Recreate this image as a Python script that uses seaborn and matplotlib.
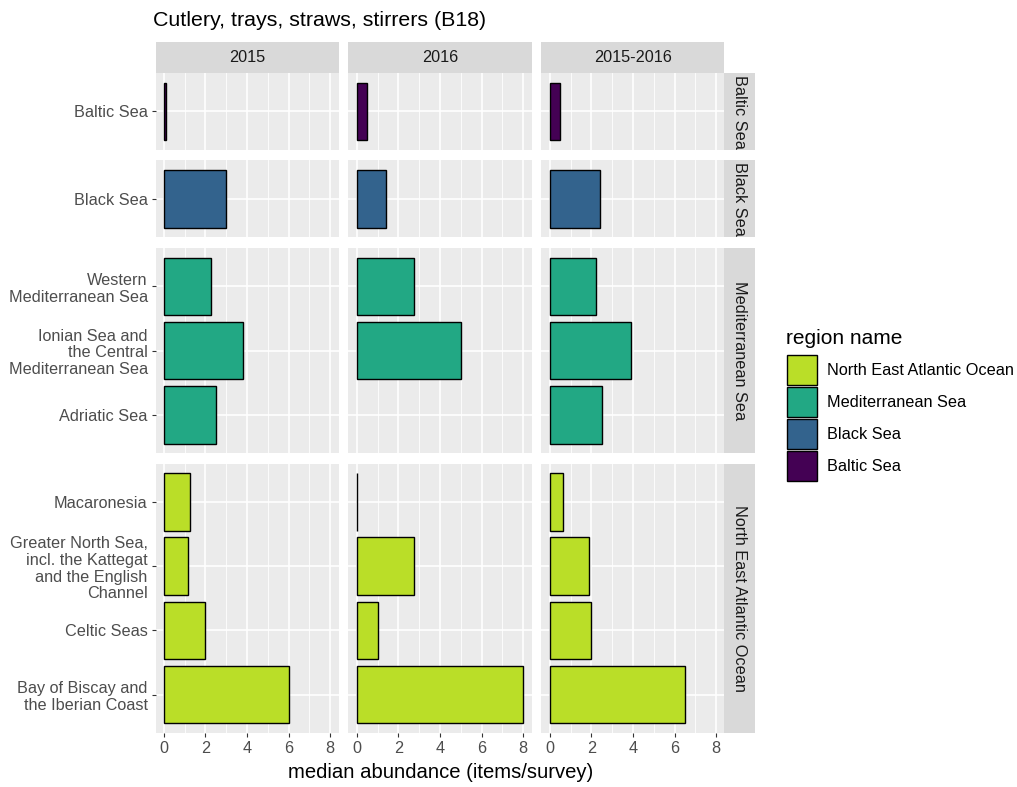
import numpy as np
import pandas as pd
import matplotlib
matplotlib.use('Agg')
import matplotlib.pyplot as plt
import seaborn as sns
from matplotlib.patches import Rectangle, Patch
from matplotlib.ticker import MultipleLocator

# Chart data
years = ['2015', '2016', '2015-2016']
regions = ['Baltic Sea', 'Black Sea', 'Mediterranean Sea', 'North East Atlantic Ocean']
baltic_sub = ['Baltic Sea']
black_sub = ['Black Sea']
med_sub = ['Western\nMediterranean Sea',
           'Ionian Sea and\nthe Central\nMediterranean Sea',
           'Adriatic Sea']
nea_sub = ['Macaronesia',
           'Greater North Sea,\nincl. the Kattegat\nand the English\nChannel',
           'Celtic Seas',
           'Bay of Biscay and\nthe Iberian Coast']
val_2015 = [0.1, 3.0, 2.25, 3.8, 2.5, 1.25, 1.15, 2.0, 6.0]
val_2016 = [0.5, 1.4, 2.75, 5.0, np.nan, 0.0, 2.75, 1.0, 8.0]
val_2015_2016 = [0.5, 2.4, 2.2, 3.9, 2.5, 0.65, 1.9, 2.0, 6.5]
region_colors = {'North East Atlantic Ocean': '#BADE28',
                 'Mediterranean Sea': '#22A884',
                 'Black Sea': '#33638D',
                 'Baltic Sea': '#440154'}
legend_order = ['North East Atlantic Ocean', 'Mediterranean Sea', 'Black Sea', 'Baltic Sea']

subs_by_region = {'Baltic Sea': baltic_sub, 'Black Sea': black_sub,
                  'Mediterranean Sea': med_sub, 'North East Atlantic Ocean': nea_sub}

# long table
rows = []
all_subs = baltic_sub + black_sub + med_sub + nea_sub
all_regs = ['Baltic Sea'] + ['Black Sea'] + ['Mediterranean Sea'] * 3 + ['North East Atlantic Ocean'] * 4
for year, vals in zip(years, [val_2015, val_2016, val_2015_2016]):
    for sub, reg, v in zip(all_subs, all_regs, vals):
        rows.append({'year': year, 'region': reg, 'subregion': sub, 'value': v})
df = pd.DataFrame(rows).dropna()

plt.rcParams['font.family'] = ['Liberation Sans', 'DejaVu Sans']

W, H = 1017, 787
fig = plt.figure(figsize=(W / 100, H / 100), dpi=100)
gs = fig.add_gridspec(4, 3, height_ratios=[1.2, 1.2, 3.2, 4.2],
                      left=155.5 / W, right=724.5 / W, top=1 - 73 / H, bottom=1 - 733 / H,
                      hspace=0.0668, wspace=0.0546)

small = 11.7
strip_px = 31
for r, reg in enumerate(regions):
    order = subs_by_region[reg]
    for c, year in enumerate(years):
        ax = fig.add_subplot(gs[r, c])
        sub = df[(df['region'] == reg) & (df['year'] == year)]
        sns.barplot(data=sub, x='value', y='subregion', order=order, hue='region',
                    palette=region_colors, dodge=False, saturation=1, width=0.9,
                    edgecolor='black', linewidth=1.0, legend=False, ax=ax, zorder=3)
        ax.set_facecolor('#EBEBEB')
        for s in ax.spines.values():
            s.set_visible(False)
        ax.set_xlim(-0.4, 8.4)
        ax.set_ylim(len(order) - 0.4, -0.6)
        ax.xaxis.set_major_locator(MultipleLocator(2))
        ax.xaxis.set_minor_locator(MultipleLocator(1))
        ax.grid(True, which='major', color='white', linewidth=1.2, zorder=0)
        ax.grid(True, which='minor', axis='x', color='white', linewidth=0.6, zorder=0)
        ax.set_axisbelow(True)
        ax.set_xlabel('')
        ax.set_ylabel('')
        ax.tick_params(axis='both', which='major', length=3.1, width=0.8, color='#333333',
                       labelsize=small, labelcolor='#4D4D4D', pad=2.5)
        ax.tick_params(axis='x', which='minor', length=0)
        if c > 0:
            ax.tick_params(axis='y', left=False, labelleft=False)
        else:
            for lab in ax.get_yticklabels():
                lab.set_linespacing(1.15)
        if r < len(regions) - 1:
            ax.tick_params(axis='x', bottom=False, labelbottom=False)

        pos = ax.get_position()
        if r == 0:
            fig.add_artist(Rectangle((pos.x0, pos.y1), pos.width, strip_px / H,
                                     transform=fig.transFigure, facecolor='#D9D9D9',
                                     edgecolor='none'))
            fig.text(pos.x0 + pos.width / 2, pos.y1 + strip_px / H / 2, year,
                     ha='center', va='center', fontsize=small, color='#1A1A1A')
        if c == len(years) - 1:
            fig.add_artist(Rectangle((pos.x1, pos.y0), strip_px / W, pos.height,
                                     transform=fig.transFigure, facecolor='#D9D9D9',
                                     edgecolor='none'))
            fig.text(pos.x1 + strip_px / W / 2, pos.y0 + pos.height / 2, reg,
                     ha='center', va='center', rotation=-90, fontsize=small, color='#1A1A1A')

fig.text(153 / W, 1 - 20 / H, 'Cutlery, trays, straws, stirrers (B18)',
         ha='left', va='center', fontsize=15.4, color='black')
fig.text(441 / W, 1 - 773 / H, 'median abundance (items/survey)',
         ha='center', va='center', fontsize=14.6, color='black')

handles = [Patch(facecolor=region_colors[k], edgecolor='black', linewidth=1.0) for k in legend_order]
leg = fig.legend(handles, legend_order, loc='upper left', bbox_to_anchor=(786.5 / W, 1 - 329 / H),
                 frameon=False, borderpad=0, borderaxespad=0, title='region name',
                 alignment='left', title_fontsize=15, fontsize=small,
                 handlelength=1.9, handleheight=2.46, handletextpad=0.6, labelspacing=0.12)
# a bit more room between legend title and keys
leg._legend_box.sep = 5.0

fig.savefig('out.png', dpi=100)
